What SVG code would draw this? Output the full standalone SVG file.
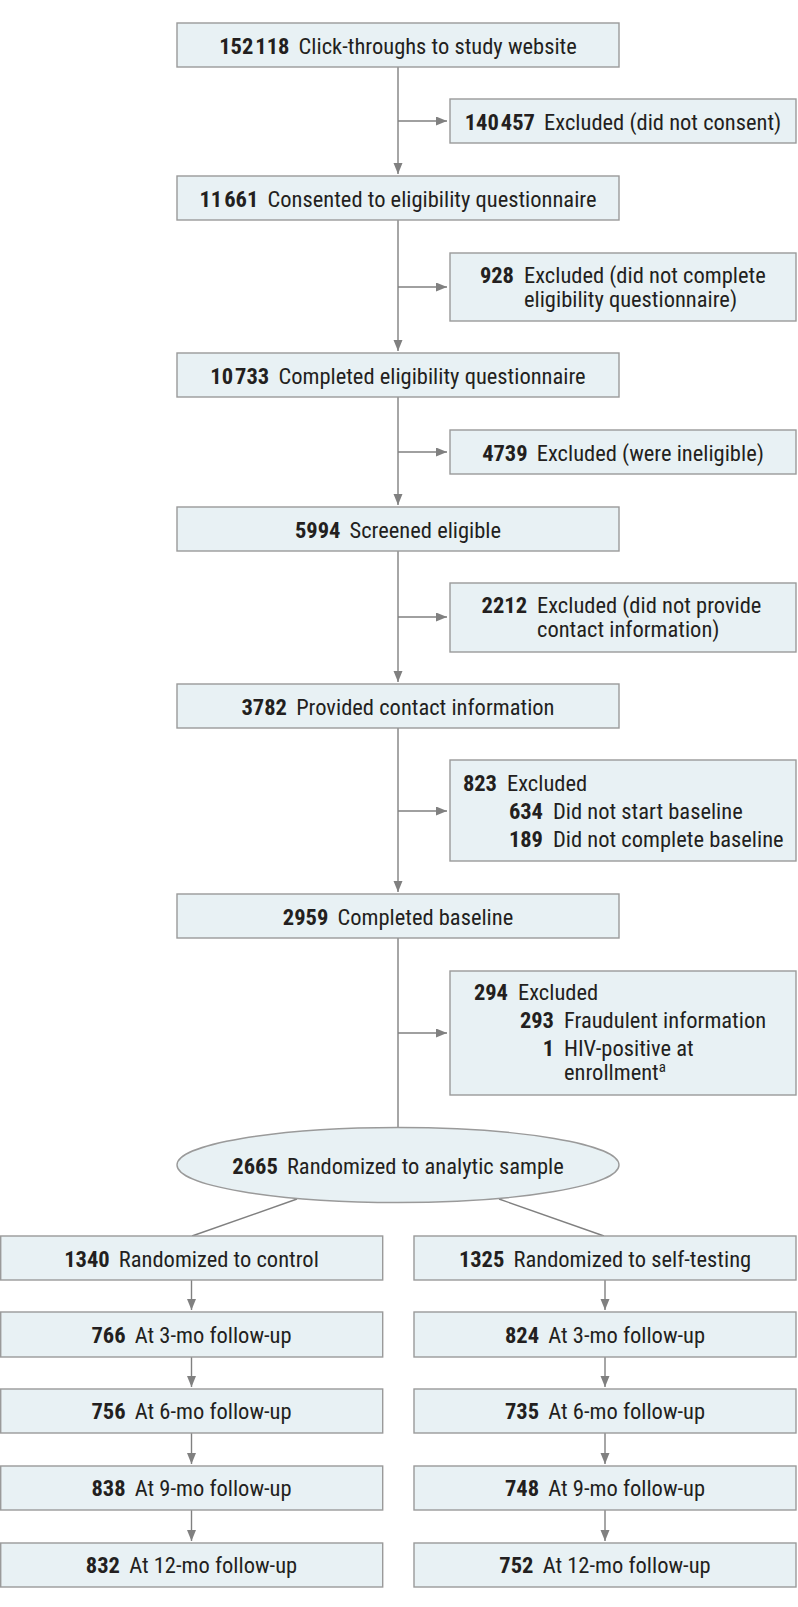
<svg xmlns="http://www.w3.org/2000/svg" width="798" height="1607" viewBox="0 0 798 1607">
<style>
text{font-family:"Liberation Sans Narrow","Roboto Condensed","DejaVu Sans Condensed","Liberation Sans",sans-serif;font-stretch:condensed;font-size:22.5px;fill:#231f20}
.b{font-weight:bold}
.box{fill:#e8f1f4;stroke:#9a9a9a;stroke-width:1.4}
.ln{fill:none;stroke:#808080;stroke-width:1.4}
.c{text-anchor:middle}
.e{text-anchor:end}
</style>
<defs>
<marker id="ah" markerUnits="userSpaceOnUse" markerWidth="12" markerHeight="10" refX="11" refY="4.5" orient="auto">
<path d="M0,0 L11,4.5 L0,9 z" fill="#808080"/>
</marker>
</defs>
<rect width="798" height="1607" fill="#ffffff"/>
<g id="connectors">
<path class="ln" d="M398,67 V174" marker-end="url(#ah)"/>
<path class="ln" d="M398,121 H447" marker-end="url(#ah)"/>
<path class="ln" d="M398,220 V351" marker-end="url(#ah)"/>
<path class="ln" d="M398,287 H447" marker-end="url(#ah)"/>
<path class="ln" d="M398,397 V505" marker-end="url(#ah)"/>
<path class="ln" d="M398,452 H447" marker-end="url(#ah)"/>
<path class="ln" d="M398,551 V682" marker-end="url(#ah)"/>
<path class="ln" d="M398,617 H447" marker-end="url(#ah)"/>
<path class="ln" d="M398,728 V892" marker-end="url(#ah)"/>
<path class="ln" d="M398,811 H447" marker-end="url(#ah)"/>
<path class="ln" d="M398,938 V1128"/>
<path class="ln" d="M398,1033 H447" marker-end="url(#ah)"/>
<path class="ln" d="M297,1199 L192,1236"/>
<path class="ln" d="M499,1199 L604,1236"/>
<path class="ln" d="M191.5,1280 V1310" marker-end="url(#ah)"/>
<path class="ln" d="M191.5,1357 V1387" marker-end="url(#ah)"/>
<path class="ln" d="M191.5,1433 V1464" marker-end="url(#ah)"/>
<path class="ln" d="M191.5,1510 V1541" marker-end="url(#ah)"/>
<path class="ln" d="M605,1280 V1310" marker-end="url(#ah)"/>
<path class="ln" d="M605,1357 V1387" marker-end="url(#ah)"/>
<path class="ln" d="M605,1433 V1464" marker-end="url(#ah)"/>
<path class="ln" d="M605,1510 V1541" marker-end="url(#ah)"/>
</g>
<g id="n1"><rect class="box" x="177" y="23" width="442" height="44"/>
<text class="c" x="398" y="53.5"><tspan class="b">152<tspan dx="2">118</tspan></tspan><tspan dx="4"> Click-throughs to study website</tspan></text></g>
<g id="x1"><rect class="box" x="450" y="99" width="346" height="44"/>
<text class="c" x="623" y="129.5"><tspan class="b">140<tspan dx="2">457</tspan></tspan><tspan dx="4"> Excluded (did not consent)</tspan></text></g>
<g id="n2"><rect class="box" x="177" y="176" width="442" height="44"/>
<text class="c" x="398" y="206.5"><tspan class="b">11<tspan dx="2">661</tspan></tspan><tspan dx="4"> Consented to eligibility questionnaire</tspan></text></g>
<g id="x2"><rect class="box" x="450" y="253" width="346" height="68"/>
<text class="e b" x="514" y="283">928</text>
<text x="524" y="283">Excluded (did not complete</text>
<text x="524" y="307">eligibility questionnaire)</text></g>
<g id="n3"><rect class="box" x="177" y="353" width="442" height="44"/>
<text class="c" x="398" y="383.5"><tspan class="b">10<tspan dx="2">733</tspan></tspan><tspan dx="4"> Completed eligibility questionnaire</tspan></text></g>
<g id="x3"><rect class="box" x="450" y="430" width="346" height="44"/>
<text class="c" x="623" y="460.5"><tspan class="b">4739</tspan><tspan dx="4"> Excluded (were ineligible)</tspan></text></g>
<g id="n4"><rect class="box" x="177" y="507" width="442" height="44"/>
<text class="c" x="398" y="537.5"><tspan class="b">5994</tspan><tspan dx="4"> Screened eligible</tspan></text></g>
<g id="x4"><rect class="box" x="450" y="583" width="346" height="69"/>
<text class="e b" x="527" y="613">2212</text>
<text x="537" y="613">Excluded (did not provide</text>
<text x="537" y="637">contact information)</text></g>
<g id="n5"><rect class="box" x="177" y="684" width="442" height="44"/>
<text class="c" x="398" y="714.5"><tspan class="b">3782</tspan><tspan dx="4"> Provided contact information</tspan></text></g>
<g id="x5"><rect class="box" x="450" y="760" width="346" height="101"/>
<text class="e b" x="497" y="790.5">823</text>
<text x="507" y="790.5">Excluded</text>
<text class="e b" x="543" y="819">634</text>
<text x="553" y="819">Did not start baseline</text>
<text class="e b" x="543" y="847">189</text>
<text x="553" y="847">Did not complete baseline</text></g>
<g id="n6"><rect class="box" x="177" y="894" width="442" height="44"/>
<text class="c" x="398" y="924.5"><tspan class="b">2959</tspan><tspan dx="4"> Completed baseline</tspan></text></g>
<g id="x6"><rect class="box" x="450" y="971" width="346" height="124"/>
<text class="e b" x="508" y="999.5">294</text>
<text x="518" y="999.5">Excluded</text>
<text class="e b" x="554" y="1028">293</text>
<text x="564" y="1028">Fraudulent information</text>
<text class="e b" x="554" y="1056">1</text>
<text x="564" y="1056">HIV-positive at</text>
<text x="564" y="1080">enrollment<tspan font-size="15" dy="-8">a</tspan></text></g>
<g id="r0"><ellipse class="box" cx="398" cy="1165" rx="221" ry="37.5"/>
<text class="c" x="398" y="1173.5"><tspan class="b">2665</tspan><tspan dx="4"> Randomized to analytic sample</tspan></text></g>
<g id="L1"><rect class="box" x="0.7" y="1236" width="382" height="44"/>
<text class="c" x="191.5" y="1266.5"><tspan class="b">1340</tspan><tspan dx="4"> Randomized to control</tspan></text></g>
<g id="R1"><rect class="box" x="414" y="1236" width="382" height="44"/>
<text class="c" x="605" y="1266.5"><tspan class="b">1325</tspan><tspan dx="4"> Randomized to self-testing</tspan></text></g>
<g id="L2"><rect class="box" x="0.7" y="1312" width="382" height="45"/>
<text class="c" x="191.5" y="1342.5"><tspan class="b">766</tspan><tspan dx="4"> At 3-mo follow-up</tspan></text></g>
<g id="R2"><rect class="box" x="414" y="1312" width="382" height="45"/>
<text class="c" x="605" y="1342.5"><tspan class="b">824</tspan><tspan dx="4"> At 3-mo follow-up</tspan></text></g>
<g id="L3"><rect class="box" x="0.7" y="1389" width="382" height="44"/>
<text class="c" x="191.5" y="1419"><tspan class="b">756</tspan><tspan dx="4"> At 6-mo follow-up</tspan></text></g>
<g id="R3"><rect class="box" x="414" y="1389" width="382" height="44"/>
<text class="c" x="605" y="1419"><tspan class="b">735</tspan><tspan dx="4"> At 6-mo follow-up</tspan></text></g>
<g id="L4"><rect class="box" x="0.7" y="1466" width="382" height="44"/>
<text class="c" x="191.5" y="1496"><tspan class="b">838</tspan><tspan dx="4"> At 9-mo follow-up</tspan></text></g>
<g id="R4"><rect class="box" x="414" y="1466" width="382" height="44"/>
<text class="c" x="605" y="1496"><tspan class="b">748</tspan><tspan dx="4"> At 9-mo follow-up</tspan></text></g>
<g id="L5"><rect class="box" x="0.7" y="1543" width="382" height="44"/>
<text class="c" x="191.5" y="1573"><tspan class="b">832</tspan><tspan dx="4"> At 12-mo follow-up</tspan></text></g>
<g id="R5"><rect class="box" x="414" y="1543" width="382" height="44"/>
<text class="c" x="605" y="1573"><tspan class="b">752</tspan><tspan dx="4"> At 12-mo follow-up</tspan></text></g>
</svg>
